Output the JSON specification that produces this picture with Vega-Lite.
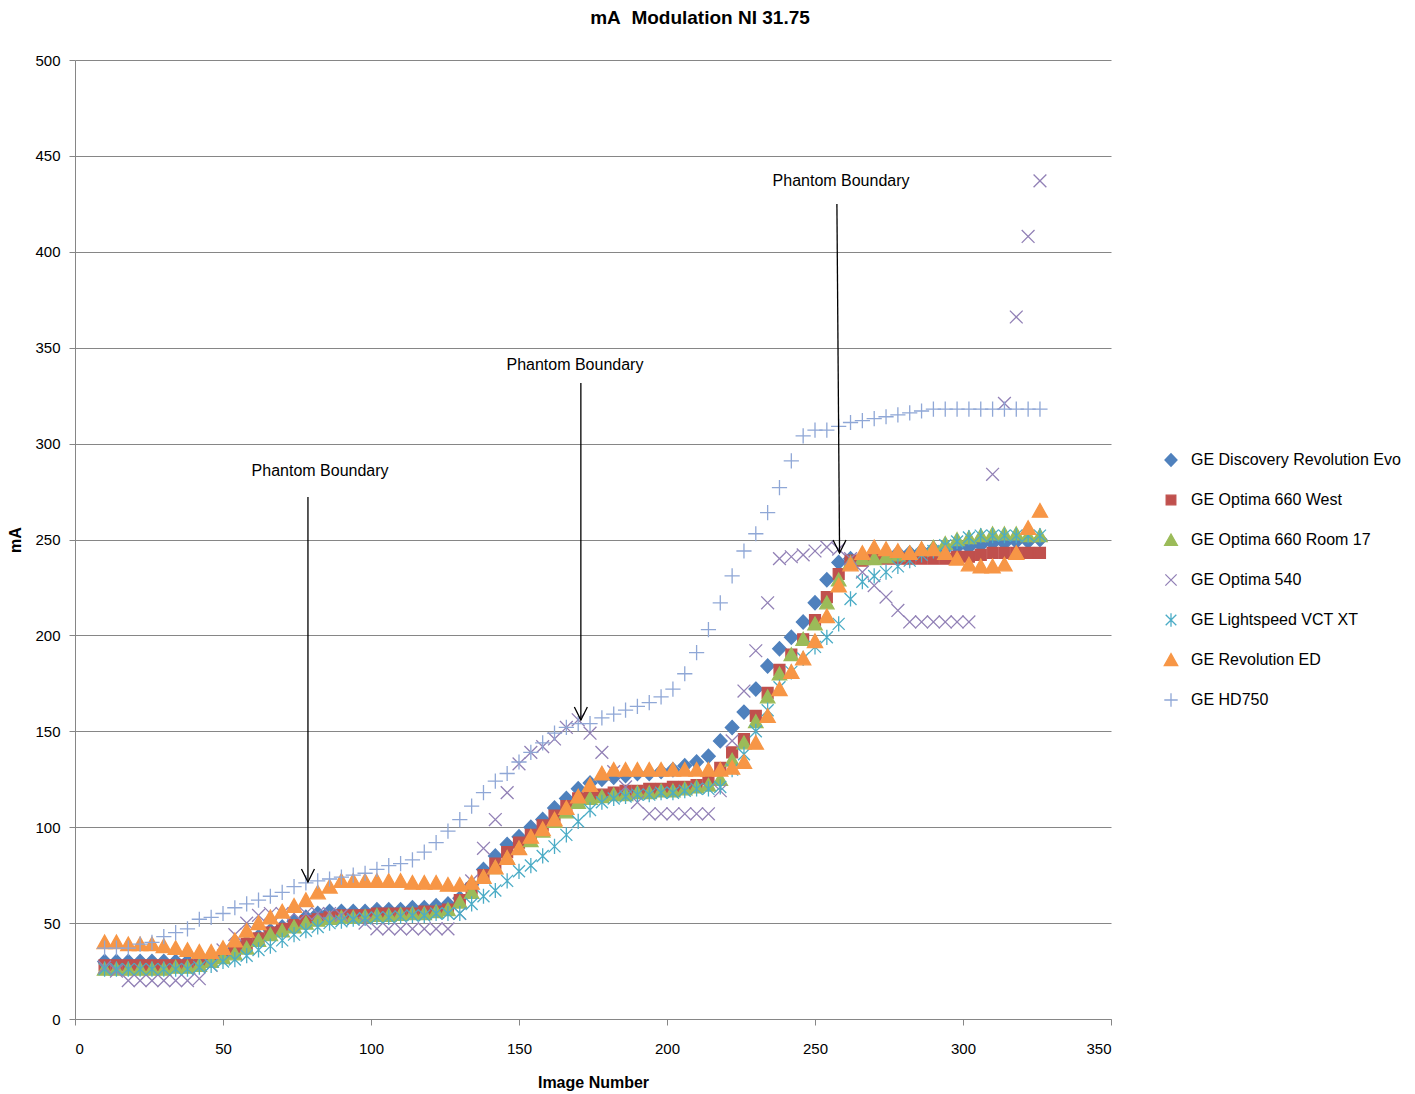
{
  "$schema": "https://vega.github.io/schema/vega-lite/v6.json",
  "width": 1036,
  "height": 959,
  "autosize": "none",
  "padding": {"left": 75, "top": 60, "right": 304, "bottom": 75},
  "background": "white",
  "config": {
    "font": "Liberation Sans",
    "view": {"stroke": null},
    "legend": {
      "labelFontSize": 16,
      "labelColor": "#000000",
      "labelOffset": 12,
      "labelLimit": 320,
      "rowPadding": 20,
      "gridAlign": "all",
      "symbolSize": 200,
      "symbolStrokeWidth": 1.3,
      "padding": 0
    }
  },
  "title": {
    "text": "mA\u00a0 Modulation NI 31.75",
    "fontSize": 19,
    "fontWeight": "bold",
    "color": "#000000",
    "anchor": "middle",
    "dx": 107,
    "offset": 25
  },
  "layer": [
    {
      "data": {
        "values": [
          {"series":"GE Discovery Revolution Evo","image":10,"mA":30},{"series":"GE Discovery Revolution Evo","image":14,"mA":30},{"series":"GE Discovery Revolution Evo","image":18,"mA":30},{"series":"GE Discovery Revolution Evo","image":22,"mA":30},{"series":"GE Discovery Revolution Evo","image":26,"mA":30},{"series":"GE Discovery Revolution Evo","image":30,"mA":30},{"series":"GE Discovery Revolution Evo","image":34,"mA":30},{"series":"GE Discovery Revolution Evo","image":38,"mA":30},{"series":"GE Discovery Revolution Evo","image":42,"mA":30},{"series":"GE Discovery Revolution Evo","image":46,"mA":31},
          {"series":"GE Discovery Revolution Evo","image":50,"mA":34},{"series":"GE Discovery Revolution Evo","image":54,"mA":37},{"series":"GE Discovery Revolution Evo","image":58,"mA":40},{"series":"GE Discovery Revolution Evo","image":62,"mA":43},{"series":"GE Discovery Revolution Evo","image":66,"mA":46},{"series":"GE Discovery Revolution Evo","image":70,"mA":48},{"series":"GE Discovery Revolution Evo","image":74,"mA":51},{"series":"GE Discovery Revolution Evo","image":78,"mA":53},{"series":"GE Discovery Revolution Evo","image":82,"mA":55},{"series":"GE Discovery Revolution Evo","image":86,"mA":56},
          {"series":"GE Discovery Revolution Evo","image":90,"mA":56},{"series":"GE Discovery Revolution Evo","image":94,"mA":56},{"series":"GE Discovery Revolution Evo","image":98,"mA":56},{"series":"GE Discovery Revolution Evo","image":102,"mA":57},{"series":"GE Discovery Revolution Evo","image":106,"mA":57},{"series":"GE Discovery Revolution Evo","image":110,"mA":57},{"series":"GE Discovery Revolution Evo","image":114,"mA":58},{"series":"GE Discovery Revolution Evo","image":118,"mA":58},{"series":"GE Discovery Revolution Evo","image":122,"mA":59},{"series":"GE Discovery Revolution Evo","image":126,"mA":60},
          {"series":"GE Discovery Revolution Evo","image":130,"mA":63},{"series":"GE Discovery Revolution Evo","image":134,"mA":70},{"series":"GE Discovery Revolution Evo","image":138,"mA":78},{"series":"GE Discovery Revolution Evo","image":142,"mA":85},{"series":"GE Discovery Revolution Evo","image":146,"mA":91},{"series":"GE Discovery Revolution Evo","image":150,"mA":95},{"series":"GE Discovery Revolution Evo","image":154,"mA":100},{"series":"GE Discovery Revolution Evo","image":158,"mA":104},{"series":"GE Discovery Revolution Evo","image":162,"mA":110},{"series":"GE Discovery Revolution Evo","image":166,"mA":115},
          {"series":"GE Discovery Revolution Evo","image":170,"mA":120},{"series":"GE Discovery Revolution Evo","image":174,"mA":123},{"series":"GE Discovery Revolution Evo","image":178,"mA":125},{"series":"GE Discovery Revolution Evo","image":182,"mA":126},{"series":"GE Discovery Revolution Evo","image":186,"mA":127},{"series":"GE Discovery Revolution Evo","image":190,"mA":128},{"series":"GE Discovery Revolution Evo","image":194,"mA":128},{"series":"GE Discovery Revolution Evo","image":198,"mA":129},{"series":"GE Discovery Revolution Evo","image":202,"mA":130},{"series":"GE Discovery Revolution Evo","image":206,"mA":132},
          {"series":"GE Discovery Revolution Evo","image":210,"mA":134},{"series":"GE Discovery Revolution Evo","image":214,"mA":137},{"series":"GE Discovery Revolution Evo","image":218,"mA":145},{"series":"GE Discovery Revolution Evo","image":222,"mA":152},{"series":"GE Discovery Revolution Evo","image":226,"mA":160},{"series":"GE Discovery Revolution Evo","image":230,"mA":172},{"series":"GE Discovery Revolution Evo","image":234,"mA":184},{"series":"GE Discovery Revolution Evo","image":238,"mA":193},{"series":"GE Discovery Revolution Evo","image":242,"mA":199},{"series":"GE Discovery Revolution Evo","image":246,"mA":207},
          {"series":"GE Discovery Revolution Evo","image":250,"mA":217},{"series":"GE Discovery Revolution Evo","image":254,"mA":229},{"series":"GE Discovery Revolution Evo","image":258,"mA":238},{"series":"GE Discovery Revolution Evo","image":262,"mA":240},{"series":"GE Discovery Revolution Evo","image":266,"mA":241},{"series":"GE Discovery Revolution Evo","image":270,"mA":242},{"series":"GE Discovery Revolution Evo","image":274,"mA":242},{"series":"GE Discovery Revolution Evo","image":278,"mA":243},{"series":"GE Discovery Revolution Evo","image":282,"mA":243},{"series":"GE Discovery Revolution Evo","image":286,"mA":244},
          {"series":"GE Discovery Revolution Evo","image":290,"mA":245},{"series":"GE Discovery Revolution Evo","image":294,"mA":245},{"series":"GE Discovery Revolution Evo","image":298,"mA":246},{"series":"GE Discovery Revolution Evo","image":302,"mA":246},{"series":"GE Discovery Revolution Evo","image":306,"mA":247},{"series":"GE Discovery Revolution Evo","image":310,"mA":248},{"series":"GE Discovery Revolution Evo","image":314,"mA":248},{"series":"GE Discovery Revolution Evo","image":318,"mA":249},{"series":"GE Discovery Revolution Evo","image":322,"mA":249},{"series":"GE Discovery Revolution Evo","image":326,"mA":250},

          {"series":"GE Optima 660 West","image":10,"mA":28},{"series":"GE Optima 660 West","image":14,"mA":28},{"series":"GE Optima 660 West","image":18,"mA":28},{"series":"GE Optima 660 West","image":22,"mA":28},{"series":"GE Optima 660 West","image":26,"mA":28},{"series":"GE Optima 660 West","image":30,"mA":28},{"series":"GE Optima 660 West","image":34,"mA":28},{"series":"GE Optima 660 West","image":38,"mA":28},{"series":"GE Optima 660 West","image":42,"mA":28},{"series":"GE Optima 660 West","image":46,"mA":30},
          {"series":"GE Optima 660 West","image":50,"mA":33},{"series":"GE Optima 660 West","image":54,"mA":36},{"series":"GE Optima 660 West","image":58,"mA":39},{"series":"GE Optima 660 West","image":62,"mA":42},{"series":"GE Optima 660 West","image":66,"mA":45},{"series":"GE Optima 660 West","image":70,"mA":47},{"series":"GE Optima 660 West","image":74,"mA":49},{"series":"GE Optima 660 West","image":78,"mA":51},{"series":"GE Optima 660 West","image":82,"mA":52},{"series":"GE Optima 660 West","image":86,"mA":53},
          {"series":"GE Optima 660 West","image":90,"mA":54},{"series":"GE Optima 660 West","image":94,"mA":54},{"series":"GE Optima 660 West","image":98,"mA":54},{"series":"GE Optima 660 West","image":102,"mA":55},{"series":"GE Optima 660 West","image":106,"mA":55},{"series":"GE Optima 660 West","image":110,"mA":55},{"series":"GE Optima 660 West","image":114,"mA":55},{"series":"GE Optima 660 West","image":118,"mA":56},{"series":"GE Optima 660 West","image":122,"mA":56},{"series":"GE Optima 660 West","image":126,"mA":57},
          {"series":"GE Optima 660 West","image":130,"mA":62},{"series":"GE Optima 660 West","image":134,"mA":68},{"series":"GE Optima 660 West","image":138,"mA":75},{"series":"GE Optima 660 West","image":142,"mA":81},{"series":"GE Optima 660 West","image":146,"mA":87},{"series":"GE Optima 660 West","image":150,"mA":92},{"series":"GE Optima 660 West","image":154,"mA":96},{"series":"GE Optima 660 West","image":158,"mA":101},{"series":"GE Optima 660 West","image":162,"mA":106},{"series":"GE Optima 660 West","image":166,"mA":111},
          {"series":"GE Optima 660 West","image":170,"mA":115},{"series":"GE Optima 660 West","image":174,"mA":116},{"series":"GE Optima 660 West","image":178,"mA":117},{"series":"GE Optima 660 West","image":182,"mA":118},{"series":"GE Optima 660 West","image":186,"mA":119},{"series":"GE Optima 660 West","image":190,"mA":119},{"series":"GE Optima 660 West","image":194,"mA":120},{"series":"GE Optima 660 West","image":198,"mA":120},{"series":"GE Optima 660 West","image":202,"mA":121},{"series":"GE Optima 660 West","image":206,"mA":121},
          {"series":"GE Optima 660 West","image":210,"mA":122},{"series":"GE Optima 660 West","image":214,"mA":125},{"series":"GE Optima 660 West","image":218,"mA":131},{"series":"GE Optima 660 West","image":222,"mA":139},{"series":"GE Optima 660 West","image":226,"mA":146},{"series":"GE Optima 660 West","image":230,"mA":158},{"series":"GE Optima 660 West","image":234,"mA":170},{"series":"GE Optima 660 West","image":238,"mA":182},{"series":"GE Optima 660 West","image":242,"mA":190},{"series":"GE Optima 660 West","image":246,"mA":198},
          {"series":"GE Optima 660 West","image":250,"mA":208},{"series":"GE Optima 660 West","image":254,"mA":220},{"series":"GE Optima 660 West","image":258,"mA":232},{"series":"GE Optima 660 West","image":262,"mA":239},{"series":"GE Optima 660 West","image":266,"mA":239},{"series":"GE Optima 660 West","image":270,"mA":240},{"series":"GE Optima 660 West","image":274,"mA":240},{"series":"GE Optima 660 West","image":278,"mA":240},{"series":"GE Optima 660 West","image":282,"mA":240},{"series":"GE Optima 660 West","image":286,"mA":240},
          {"series":"GE Optima 660 West","image":290,"mA":240},{"series":"GE Optima 660 West","image":294,"mA":240},{"series":"GE Optima 660 West","image":298,"mA":241},{"series":"GE Optima 660 West","image":302,"mA":241},{"series":"GE Optima 660 West","image":306,"mA":242},{"series":"GE Optima 660 West","image":310,"mA":243},{"series":"GE Optima 660 West","image":314,"mA":243},{"series":"GE Optima 660 West","image":318,"mA":243},{"series":"GE Optima 660 West","image":322,"mA":243},{"series":"GE Optima 660 West","image":326,"mA":243},

          {"series":"GE Optima 660 Room 17","image":10,"mA":26},{"series":"GE Optima 660 Room 17","image":14,"mA":26},{"series":"GE Optima 660 Room 17","image":18,"mA":26},{"series":"GE Optima 660 Room 17","image":22,"mA":26},{"series":"GE Optima 660 Room 17","image":26,"mA":26},{"series":"GE Optima 660 Room 17","image":30,"mA":26},{"series":"GE Optima 660 Room 17","image":34,"mA":27},{"series":"GE Optima 660 Room 17","image":38,"mA":27},{"series":"GE Optima 660 Room 17","image":42,"mA":28},{"series":"GE Optima 660 Room 17","image":46,"mA":30},
          {"series":"GE Optima 660 Room 17","image":50,"mA":32},{"series":"GE Optima 660 Room 17","image":54,"mA":34},{"series":"GE Optima 660 Room 17","image":58,"mA":37},{"series":"GE Optima 660 Room 17","image":62,"mA":41},{"series":"GE Optima 660 Room 17","image":66,"mA":44},{"series":"GE Optima 660 Room 17","image":70,"mA":46},{"series":"GE Optima 660 Room 17","image":74,"mA":48},{"series":"GE Optima 660 Room 17","image":78,"mA":50},{"series":"GE Optima 660 Room 17","image":82,"mA":51.5},{"series":"GE Optima 660 Room 17","image":86,"mA":52.5},
          {"series":"GE Optima 660 Room 17","image":90,"mA":53},{"series":"GE Optima 660 Room 17","image":94,"mA":53},{"series":"GE Optima 660 Room 17","image":98,"mA":53.5},{"series":"GE Optima 660 Room 17","image":102,"mA":54},{"series":"GE Optima 660 Room 17","image":106,"mA":54},{"series":"GE Optima 660 Room 17","image":110,"mA":54.5},{"series":"GE Optima 660 Room 17","image":114,"mA":55},{"series":"GE Optima 660 Room 17","image":118,"mA":55},{"series":"GE Optima 660 Room 17","image":122,"mA":56},{"series":"GE Optima 660 Room 17","image":126,"mA":57},
          {"series":"GE Optima 660 Room 17","image":130,"mA":61},{"series":"GE Optima 660 Room 17","image":134,"mA":66},{"series":"GE Optima 660 Room 17","image":138,"mA":74},{"series":"GE Optima 660 Room 17","image":142,"mA":79},{"series":"GE Optima 660 Room 17","image":146,"mA":84},{"series":"GE Optima 660 Room 17","image":150,"mA":89},{"series":"GE Optima 660 Room 17","image":154,"mA":93},{"series":"GE Optima 660 Room 17","image":158,"mA":98},{"series":"GE Optima 660 Room 17","image":162,"mA":103},{"series":"GE Optima 660 Room 17","image":166,"mA":108},
          {"series":"GE Optima 660 Room 17","image":170,"mA":113},{"series":"GE Optima 660 Room 17","image":174,"mA":115},{"series":"GE Optima 660 Room 17","image":178,"mA":116},{"series":"GE Optima 660 Room 17","image":182,"mA":117},{"series":"GE Optima 660 Room 17","image":186,"mA":117},{"series":"GE Optima 660 Room 17","image":190,"mA":118},{"series":"GE Optima 660 Room 17","image":194,"mA":118},{"series":"GE Optima 660 Room 17","image":198,"mA":119},{"series":"GE Optima 660 Room 17","image":202,"mA":119},{"series":"GE Optima 660 Room 17","image":206,"mA":120},
          {"series":"GE Optima 660 Room 17","image":210,"mA":121},{"series":"GE Optima 660 Room 17","image":214,"mA":122},{"series":"GE Optima 660 Room 17","image":218,"mA":125},{"series":"GE Optima 660 Room 17","image":222,"mA":135},{"series":"GE Optima 660 Room 17","image":226,"mA":144},{"series":"GE Optima 660 Room 17","image":230,"mA":155},{"series":"GE Optima 660 Room 17","image":234,"mA":168},{"series":"GE Optima 660 Room 17","image":238,"mA":180},{"series":"GE Optima 660 Room 17","image":242,"mA":190},{"series":"GE Optima 660 Room 17","image":246,"mA":198},
          {"series":"GE Optima 660 Room 17","image":250,"mA":206},{"series":"GE Optima 660 Room 17","image":254,"mA":217},{"series":"GE Optima 660 Room 17","image":258,"mA":229},{"series":"GE Optima 660 Room 17","image":262,"mA":238},{"series":"GE Optima 660 Room 17","image":266,"mA":240},{"series":"GE Optima 660 Room 17","image":270,"mA":240},{"series":"GE Optima 660 Room 17","image":274,"mA":241},{"series":"GE Optima 660 Room 17","image":278,"mA":242},{"series":"GE Optima 660 Room 17","image":282,"mA":243},{"series":"GE Optima 660 Room 17","image":286,"mA":245},
          {"series":"GE Optima 660 Room 17","image":290,"mA":246},{"series":"GE Optima 660 Room 17","image":294,"mA":248},{"series":"GE Optima 660 Room 17","image":298,"mA":250},{"series":"GE Optima 660 Room 17","image":302,"mA":251},{"series":"GE Optima 660 Room 17","image":306,"mA":252},{"series":"GE Optima 660 Room 17","image":310,"mA":253},{"series":"GE Optima 660 Room 17","image":314,"mA":253},{"series":"GE Optima 660 Room 17","image":318,"mA":253},{"series":"GE Optima 660 Room 17","image":322,"mA":252},{"series":"GE Optima 660 Room 17","image":326,"mA":252},

          {"series":"GE Optima 540","image":10,"mA":27},{"series":"GE Optima 540","image":14,"mA":25},{"series":"GE Optima 540","image":18,"mA":20},{"series":"GE Optima 540","image":22,"mA":20},{"series":"GE Optima 540","image":26,"mA":20},{"series":"GE Optima 540","image":30,"mA":20},{"series":"GE Optima 540","image":34,"mA":20},{"series":"GE Optima 540","image":38,"mA":20},{"series":"GE Optima 540","image":42,"mA":21},{"series":"GE Optima 540","image":46,"mA":28},
          {"series":"GE Optima 540","image":50,"mA":36},{"series":"GE Optima 540","image":54,"mA":44},{"series":"GE Optima 540","image":58,"mA":50},{"series":"GE Optima 540","image":62,"mA":54},{"series":"GE Optima 540","image":66,"mA":55},{"series":"GE Optima 540","image":70,"mA":55},{"series":"GE Optima 540","image":74,"mA":55},{"series":"GE Optima 540","image":78,"mA":55},{"series":"GE Optima 540","image":82,"mA":55},{"series":"GE Optima 540","image":86,"mA":55},
          {"series":"GE Optima 540","image":90,"mA":54},{"series":"GE Optima 540","image":94,"mA":52},{"series":"GE Optima 540","image":98,"mA":50},{"series":"GE Optima 540","image":102,"mA":47},{"series":"GE Optima 540","image":106,"mA":47},{"series":"GE Optima 540","image":110,"mA":47},{"series":"GE Optima 540","image":114,"mA":47},{"series":"GE Optima 540","image":118,"mA":47},{"series":"GE Optima 540","image":122,"mA":47},{"series":"GE Optima 540","image":126,"mA":47},
          {"series":"GE Optima 540","image":130,"mA":55},{"series":"GE Optima 540","image":134,"mA":72},{"series":"GE Optima 540","image":138,"mA":89},{"series":"GE Optima 540","image":142,"mA":104},{"series":"GE Optima 540","image":146,"mA":118},{"series":"GE Optima 540","image":150,"mA":133},{"series":"GE Optima 540","image":154,"mA":139},{"series":"GE Optima 540","image":158,"mA":142},{"series":"GE Optima 540","image":162,"mA":146},{"series":"GE Optima 540","image":166,"mA":152},
          {"series":"GE Optima 540","image":170,"mA":156},{"series":"GE Optima 540","image":174,"mA":149},{"series":"GE Optima 540","image":178,"mA":139},{"series":"GE Optima 540","image":182,"mA":129},{"series":"GE Optima 540","image":186,"mA":121},{"series":"GE Optima 540","image":190,"mA":113},{"series":"GE Optima 540","image":194,"mA":107},{"series":"GE Optima 540","image":198,"mA":107},{"series":"GE Optima 540","image":202,"mA":107},{"series":"GE Optima 540","image":206,"mA":107},
          {"series":"GE Optima 540","image":210,"mA":107},{"series":"GE Optima 540","image":214,"mA":107},{"series":"GE Optima 540","image":218,"mA":119},{"series":"GE Optima 540","image":222,"mA":145},{"series":"GE Optima 540","image":226,"mA":171},{"series":"GE Optima 540","image":230,"mA":192},{"series":"GE Optima 540","image":234,"mA":217},{"series":"GE Optima 540","image":238,"mA":240},{"series":"GE Optima 540","image":242,"mA":241},{"series":"GE Optima 540","image":246,"mA":242},
          {"series":"GE Optima 540","image":250,"mA":244},{"series":"GE Optima 540","image":254,"mA":246},{"series":"GE Optima 540","image":258,"mA":245},{"series":"GE Optima 540","image":262,"mA":240},{"series":"GE Optima 540","image":266,"mA":233},{"series":"GE Optima 540","image":270,"mA":226},{"series":"GE Optima 540","image":274,"mA":220},{"series":"GE Optima 540","image":278,"mA":213},{"series":"GE Optima 540","image":282,"mA":207},{"series":"GE Optima 540","image":286,"mA":207},
          {"series":"GE Optima 540","image":290,"mA":207},{"series":"GE Optima 540","image":294,"mA":207},{"series":"GE Optima 540","image":298,"mA":207},{"series":"GE Optima 540","image":302,"mA":207},{"series":"GE Optima 540","image":310,"mA":284},{"series":"GE Optima 540","image":314,"mA":321},{"series":"GE Optima 540","image":318,"mA":366},{"series":"GE Optima 540","image":322,"mA":408},{"series":"GE Optima 540","image":326,"mA":437},

          {"series":"GE Lightspeed VCT XT","image":10,"mA":26},{"series":"GE Lightspeed VCT XT","image":14,"mA":26},{"series":"GE Lightspeed VCT XT","image":18,"mA":26},{"series":"GE Lightspeed VCT XT","image":22,"mA":26},{"series":"GE Lightspeed VCT XT","image":26,"mA":26},{"series":"GE Lightspeed VCT XT","image":30,"mA":26},{"series":"GE Lightspeed VCT XT","image":34,"mA":26},{"series":"GE Lightspeed VCT XT","image":38,"mA":26},{"series":"GE Lightspeed VCT XT","image":42,"mA":27},{"series":"GE Lightspeed VCT XT","image":46,"mA":28},
          {"series":"GE Lightspeed VCT XT","image":50,"mA":30},{"series":"GE Lightspeed VCT XT","image":54,"mA":31},{"series":"GE Lightspeed VCT XT","image":58,"mA":33},{"series":"GE Lightspeed VCT XT","image":62,"mA":36},{"series":"GE Lightspeed VCT XT","image":66,"mA":38},{"series":"GE Lightspeed VCT XT","image":70,"mA":41},{"series":"GE Lightspeed VCT XT","image":74,"mA":44},{"series":"GE Lightspeed VCT XT","image":78,"mA":46},{"series":"GE Lightspeed VCT XT","image":82,"mA":48},{"series":"GE Lightspeed VCT XT","image":86,"mA":50},
          {"series":"GE Lightspeed VCT XT","image":90,"mA":51},{"series":"GE Lightspeed VCT XT","image":94,"mA":52},{"series":"GE Lightspeed VCT XT","image":98,"mA":52.5},{"series":"GE Lightspeed VCT XT","image":102,"mA":53},{"series":"GE Lightspeed VCT XT","image":106,"mA":53},{"series":"GE Lightspeed VCT XT","image":110,"mA":53.5},{"series":"GE Lightspeed VCT XT","image":114,"mA":54},{"series":"GE Lightspeed VCT XT","image":118,"mA":54},{"series":"GE Lightspeed VCT XT","image":122,"mA":55},{"series":"GE Lightspeed VCT XT","image":126,"mA":55},
          {"series":"GE Lightspeed VCT XT","image":130,"mA":55},{"series":"GE Lightspeed VCT XT","image":134,"mA":60},{"series":"GE Lightspeed VCT XT","image":138,"mA":64},{"series":"GE Lightspeed VCT XT","image":142,"mA":67},{"series":"GE Lightspeed VCT XT","image":146,"mA":72},{"series":"GE Lightspeed VCT XT","image":150,"mA":77},{"series":"GE Lightspeed VCT XT","image":154,"mA":80},{"series":"GE Lightspeed VCT XT","image":158,"mA":85},{"series":"GE Lightspeed VCT XT","image":162,"mA":90},{"series":"GE Lightspeed VCT XT","image":166,"mA":96},
          {"series":"GE Lightspeed VCT XT","image":170,"mA":103},{"series":"GE Lightspeed VCT XT","image":174,"mA":109},{"series":"GE Lightspeed VCT XT","image":178,"mA":113},{"series":"GE Lightspeed VCT XT","image":182,"mA":115},{"series":"GE Lightspeed VCT XT","image":186,"mA":116},{"series":"GE Lightspeed VCT XT","image":190,"mA":117},{"series":"GE Lightspeed VCT XT","image":194,"mA":117},{"series":"GE Lightspeed VCT XT","image":198,"mA":118},{"series":"GE Lightspeed VCT XT","image":202,"mA":118},{"series":"GE Lightspeed VCT XT","image":206,"mA":119},
          {"series":"GE Lightspeed VCT XT","image":210,"mA":120},{"series":"GE Lightspeed VCT XT","image":214,"mA":120},{"series":"GE Lightspeed VCT XT","image":218,"mA":121},{"series":"GE Lightspeed VCT XT","image":222,"mA":130},{"series":"GE Lightspeed VCT XT","image":226,"mA":138},{"series":"GE Lightspeed VCT XT","image":230,"mA":150},{"series":"GE Lightspeed VCT XT","image":234,"mA":161},{"series":"GE Lightspeed VCT XT","image":238,"mA":173},{"series":"GE Lightspeed VCT XT","image":242,"mA":181},{"series":"GE Lightspeed VCT XT","image":246,"mA":188},
          {"series":"GE Lightspeed VCT XT","image":250,"mA":194},{"series":"GE Lightspeed VCT XT","image":254,"mA":199},{"series":"GE Lightspeed VCT XT","image":258,"mA":206},{"series":"GE Lightspeed VCT XT","image":262,"mA":219},{"series":"GE Lightspeed VCT XT","image":266,"mA":228},{"series":"GE Lightspeed VCT XT","image":270,"mA":231},{"series":"GE Lightspeed VCT XT","image":274,"mA":233},{"series":"GE Lightspeed VCT XT","image":278,"mA":236},{"series":"GE Lightspeed VCT XT","image":282,"mA":239},{"series":"GE Lightspeed VCT XT","image":286,"mA":242},
          {"series":"GE Lightspeed VCT XT","image":290,"mA":244},{"series":"GE Lightspeed VCT XT","image":294,"mA":247},{"series":"GE Lightspeed VCT XT","image":298,"mA":249},{"series":"GE Lightspeed VCT XT","image":302,"mA":251},{"series":"GE Lightspeed VCT XT","image":306,"mA":252},{"series":"GE Lightspeed VCT XT","image":310,"mA":252},{"series":"GE Lightspeed VCT XT","image":314,"mA":252},{"series":"GE Lightspeed VCT XT","image":318,"mA":252},{"series":"GE Lightspeed VCT XT","image":322,"mA":252},{"series":"GE Lightspeed VCT XT","image":326,"mA":252},

          {"series":"GE Revolution ED","image":10,"mA":40},{"series":"GE Revolution ED","image":14,"mA":40},{"series":"GE Revolution ED","image":18,"mA":39},{"series":"GE Revolution ED","image":22,"mA":39},{"series":"GE Revolution ED","image":26,"mA":39},{"series":"GE Revolution ED","image":30,"mA":38},{"series":"GE Revolution ED","image":34,"mA":37},{"series":"GE Revolution ED","image":38,"mA":36},{"series":"GE Revolution ED","image":42,"mA":35},{"series":"GE Revolution ED","image":46,"mA":35},
          {"series":"GE Revolution ED","image":50,"mA":37},{"series":"GE Revolution ED","image":54,"mA":41},{"series":"GE Revolution ED","image":58,"mA":46},{"series":"GE Revolution ED","image":62,"mA":50},{"series":"GE Revolution ED","image":66,"mA":53},{"series":"GE Revolution ED","image":70,"mA":56},{"series":"GE Revolution ED","image":74,"mA":59},{"series":"GE Revolution ED","image":78,"mA":62},{"series":"GE Revolution ED","image":82,"mA":66},{"series":"GE Revolution ED","image":86,"mA":69},
          {"series":"GE Revolution ED","image":90,"mA":72},{"series":"GE Revolution ED","image":94,"mA":72},{"series":"GE Revolution ED","image":98,"mA":72},{"series":"GE Revolution ED","image":102,"mA":72},{"series":"GE Revolution ED","image":106,"mA":72},{"series":"GE Revolution ED","image":110,"mA":72},{"series":"GE Revolution ED","image":114,"mA":71},{"series":"GE Revolution ED","image":118,"mA":71},{"series":"GE Revolution ED","image":122,"mA":71},{"series":"GE Revolution ED","image":126,"mA":70},
          {"series":"GE Revolution ED","image":130,"mA":70},{"series":"GE Revolution ED","image":134,"mA":71},{"series":"GE Revolution ED","image":138,"mA":74},{"series":"GE Revolution ED","image":142,"mA":79},{"series":"GE Revolution ED","image":146,"mA":84},{"series":"GE Revolution ED","image":150,"mA":89},{"series":"GE Revolution ED","image":154,"mA":95},{"series":"GE Revolution ED","image":158,"mA":99},{"series":"GE Revolution ED","image":162,"mA":104},{"series":"GE Revolution ED","image":166,"mA":110},
          {"series":"GE Revolution ED","image":170,"mA":116},{"series":"GE Revolution ED","image":174,"mA":122},{"series":"GE Revolution ED","image":178,"mA":128},{"series":"GE Revolution ED","image":182,"mA":130},{"series":"GE Revolution ED","image":186,"mA":130},{"series":"GE Revolution ED","image":190,"mA":130},{"series":"GE Revolution ED","image":194,"mA":130},{"series":"GE Revolution ED","image":198,"mA":130},{"series":"GE Revolution ED","image":202,"mA":130},{"series":"GE Revolution ED","image":206,"mA":130},
          {"series":"GE Revolution ED","image":210,"mA":130},{"series":"GE Revolution ED","image":214,"mA":130},{"series":"GE Revolution ED","image":218,"mA":130},{"series":"GE Revolution ED","image":222,"mA":131},{"series":"GE Revolution ED","image":226,"mA":134},{"series":"GE Revolution ED","image":230,"mA":144},{"series":"GE Revolution ED","image":234,"mA":158},{"series":"GE Revolution ED","image":238,"mA":172},{"series":"GE Revolution ED","image":242,"mA":181},{"series":"GE Revolution ED","image":246,"mA":188},
          {"series":"GE Revolution ED","image":250,"mA":197},{"series":"GE Revolution ED","image":254,"mA":210},{"series":"GE Revolution ED","image":258,"mA":226},{"series":"GE Revolution ED","image":262,"mA":237},{"series":"GE Revolution ED","image":266,"mA":243},{"series":"GE Revolution ED","image":270,"mA":246},{"series":"GE Revolution ED","image":274,"mA":245},{"series":"GE Revolution ED","image":278,"mA":244},{"series":"GE Revolution ED","image":282,"mA":243},{"series":"GE Revolution ED","image":286,"mA":245},
          {"series":"GE Revolution ED","image":290,"mA":245},{"series":"GE Revolution ED","image":294,"mA":243},{"series":"GE Revolution ED","image":298,"mA":240},{"series":"GE Revolution ED","image":302,"mA":237},{"series":"GE Revolution ED","image":306,"mA":236},{"series":"GE Revolution ED","image":310,"mA":236},{"series":"GE Revolution ED","image":314,"mA":237},{"series":"GE Revolution ED","image":318,"mA":243},{"series":"GE Revolution ED","image":322,"mA":256},{"series":"GE Revolution ED","image":326,"mA":265},

          {"series":"GE HD750","image":10,"mA":37},{"series":"GE HD750","image":14,"mA":37},{"series":"GE HD750","image":18,"mA":37},{"series":"GE HD750","image":22,"mA":39},{"series":"GE HD750","image":26,"mA":40},{"series":"GE HD750","image":30,"mA":43},{"series":"GE HD750","image":34,"mA":45},{"series":"GE HD750","image":38,"mA":47},{"series":"GE HD750","image":42,"mA":52},{"series":"GE HD750","image":46,"mA":53},
          {"series":"GE HD750","image":50,"mA":55},{"series":"GE HD750","image":54,"mA":58},{"series":"GE HD750","image":58,"mA":60},{"series":"GE HD750","image":62,"mA":62},{"series":"GE HD750","image":66,"mA":64},{"series":"GE HD750","image":70,"mA":66},{"series":"GE HD750","image":74,"mA":69},{"series":"GE HD750","image":78,"mA":71},{"series":"GE HD750","image":82,"mA":72},{"series":"GE HD750","image":86,"mA":73},
          {"series":"GE HD750","image":90,"mA":74},{"series":"GE HD750","image":94,"mA":75},{"series":"GE HD750","image":98,"mA":76},{"series":"GE HD750","image":102,"mA":78},{"series":"GE HD750","image":106,"mA":80},{"series":"GE HD750","image":110,"mA":81},{"series":"GE HD750","image":114,"mA":83},{"series":"GE HD750","image":118,"mA":87},{"series":"GE HD750","image":122,"mA":92},{"series":"GE HD750","image":126,"mA":98},
          {"series":"GE HD750","image":130,"mA":104},{"series":"GE HD750","image":134,"mA":111},{"series":"GE HD750","image":138,"mA":118},{"series":"GE HD750","image":142,"mA":124},{"series":"GE HD750","image":146,"mA":128},{"series":"GE HD750","image":150,"mA":134},{"series":"GE HD750","image":154,"mA":139},{"series":"GE HD750","image":158,"mA":144},{"series":"GE HD750","image":162,"mA":149},{"series":"GE HD750","image":166,"mA":152},
          {"series":"GE HD750","image":170,"mA":154},{"series":"GE HD750","image":174,"mA":154},{"series":"GE HD750","image":178,"mA":157},{"series":"GE HD750","image":182,"mA":159},{"series":"GE HD750","image":186,"mA":161},{"series":"GE HD750","image":190,"mA":163},{"series":"GE HD750","image":194,"mA":165},{"series":"GE HD750","image":198,"mA":168},{"series":"GE HD750","image":202,"mA":172},{"series":"GE HD750","image":206,"mA":180},
          {"series":"GE HD750","image":210,"mA":191},{"series":"GE HD750","image":214,"mA":203},{"series":"GE HD750","image":218,"mA":217},{"series":"GE HD750","image":222,"mA":231},{"series":"GE HD750","image":226,"mA":244},{"series":"GE HD750","image":230,"mA":253},{"series":"GE HD750","image":234,"mA":264},{"series":"GE HD750","image":238,"mA":277},{"series":"GE HD750","image":242,"mA":291},{"series":"GE HD750","image":246,"mA":304},
          {"series":"GE HD750","image":250,"mA":307},{"series":"GE HD750","image":254,"mA":307},{"series":"GE HD750","image":258,"mA":309},{"series":"GE HD750","image":262,"mA":311},{"series":"GE HD750","image":266,"mA":312},{"series":"GE HD750","image":270,"mA":313},{"series":"GE HD750","image":274,"mA":314},{"series":"GE HD750","image":278,"mA":315},{"series":"GE HD750","image":282,"mA":316},{"series":"GE HD750","image":286,"mA":317},
          {"series":"GE HD750","image":290,"mA":318},{"series":"GE HD750","image":294,"mA":318},{"series":"GE HD750","image":298,"mA":318},{"series":"GE HD750","image":302,"mA":318},{"series":"GE HD750","image":306,"mA":318},{"series":"GE HD750","image":310,"mA":318},{"series":"GE HD750","image":314,"mA":318},{"series":"GE HD750","image":318,"mA":318},{"series":"GE HD750","image":322,"mA":318},{"series":"GE HD750","image":326,"mA":318}
        ]
      },
      "mark": {"type": "point", "opacity": 1, "strokeWidth": 1.3, "size": 256},
      "encoding": {
        "x": {
          "field": "image",
          "type": "quantitative",
          "scale": {"domain": [0, 350], "nice": false, "zero": false},
          "axis": {
            "values": [0, 50, 100, 150, 200, 250, 300, 350],
            "grid": false,
            "domainColor": "#868686",
            "tickColor": "#868686",
            "tickSize": 6,
            "labelFontSize": 15,
            "labelColor": "#000000",
            "labelPadding": 16,
            "title": "Image Number",
            "titleFontSize": 16,
            "titleFontWeight": "bold",
            "titleColor": "#000000",
            "titlePadding": 18
          }
        },
        "y": {
          "field": "mA",
          "type": "quantitative",
          "scale": {"domain": [0, 500], "nice": false},
          "axis": {
            "values": [0, 50, 100, 150, 200, 250, 300, 350, 400, 450, 500],
            "grid": true,
            "gridColor": "#868686",
            "gridWidth": 1,
            "domainColor": "#868686",
            "tickColor": "#868686",
            "tickSize": 6,
            "labelFontSize": 15,
            "labelColor": "#000000",
            "labelPadding": 9,
            "title": "mA",
            "titleFontSize": 16,
            "titleFontWeight": "bold",
            "titleColor": "#000000",
            "titlePadding": 11
          }
        },
        "fill": {
          "field": "series",
          "type": "nominal",
          "scale": {
            "domain": ["GE Discovery Revolution Evo", "GE Optima 660 West", "GE Optima 660 Room 17", "GE Optima 540", "GE Lightspeed VCT XT", "GE Revolution ED", "GE HD750"],
            "range": ["#4F81BD", "#C0504D", "#9BBB59", "#9281B6", "#4BACC6", "#F79646", "#8FA7D6"]
          },
          "legend": {"title": null, "orient": "none", "legendX": 1088, "legendY": 392}
        },
        "stroke": {
          "field": "series",
          "type": "nominal",
          "scale": {
            "domain": ["GE Discovery Revolution Evo", "GE Optima 660 West", "GE Optima 660 Room 17", "GE Optima 540", "GE Lightspeed VCT XT", "GE Revolution ED", "GE HD750"],
            "range": ["#4F81BD", "#C0504D", "#9BBB59", "#9281B6", "#4BACC6", "#F79646", "#8FA7D6"]
          },
          "legend": {"title": null, "orient": "none", "legendX": 1088, "legendY": 392}
        },
        "shape": {
          "field": "series",
          "type": "nominal",
          "scale": {
            "domain": ["GE Discovery Revolution Evo", "GE Optima 660 West", "GE Optima 660 Room 17", "GE Optima 540", "GE Lightspeed VCT XT", "GE Revolution ED", "GE HD750"],
            "range": [
              "M0,-0.88L0.85,0L0,0.88L-0.85,0Z",
              "M-0.68,-0.68L0.68,-0.68L0.68,0.68L-0.68,0.68Z",
              "M0,-0.85L0.9,0.75L-0.9,0.75Z",
              "M-0.8,-0.8L0.8,0.8M-0.8,0.8L0.8,-0.8",
              "M-0.75,-0.75L0.75,0.75M-0.75,0.75L0.75,-0.75M0,-0.95L0,0.95",
              "M0,-0.9L0.95,0.8L-0.95,0.8Z",
              "M-0.95,0L0.95,0M0,-0.95L0,0.95"
            ]
          },
          "legend": {"title": null, "orient": "none", "legendX": 1088, "legendY": 392}
        }
      }
    },
    {
      "data": {
        "values": [
          {"label": "Phantom Boundary", "textX": 82.8, "textY": 285.7, "lineX": 78.7, "lineX2": 78.7, "lineTop": 272.2, "lineTip": 71.4},
          {"label": "Phantom Boundary", "textX": 168.9, "textY": 341.0, "lineX": 170.9, "lineX2": 170.9, "lineTop": 331.6, "lineTip": 155.9},
          {"label": "Phantom Boundary", "textX": 258.8, "textY": 436.9, "lineX": 257.4, "lineX2": 258.3, "lineTop": 424.9, "lineTip": 243.0}
        ]
      },
      "layer": [
        {
          "mark": {"type": "rule", "color": "#000000", "strokeWidth": 1.3},
          "encoding": {
            "x": {"field": "lineX", "type": "quantitative"},
            "x2": {"field": "lineX2"},
            "y": {"field": "lineTop", "type": "quantitative"},
            "y2": {"field": "lineTip"}
          }
        },
        {
          "mark": {"type": "point", "filled": false, "color": "#000000", "strokeWidth": 1.3, "opacity": 1, "size": 676, "shape": "M-0.5,-1L0,0L0.5,-1"},
          "encoding": {
            "x": {"field": "lineX2", "type": "quantitative"},
            "y": {"field": "lineTip", "type": "quantitative"}
          }
        },
        {
          "mark": {"type": "text", "fontSize": 16, "color": "#000000", "align": "center", "baseline": "middle"},
          "encoding": {
            "x": {"field": "textX", "type": "quantitative"},
            "y": {"field": "textY", "type": "quantitative"},
            "text": {"field": "label"}
          }
        }
      ]
    }
  ]
}
